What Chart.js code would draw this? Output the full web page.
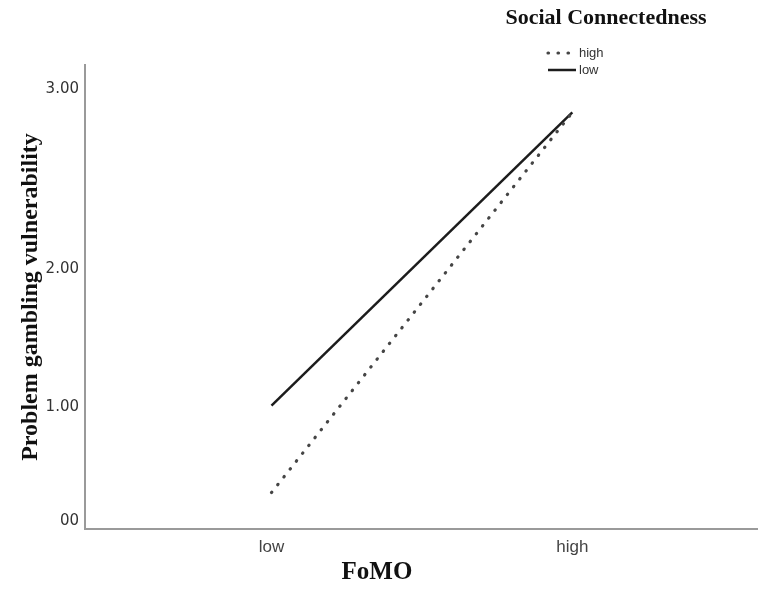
<!DOCTYPE html>
<html>
<head>
<meta charset="utf-8">
<title>FoMO x Social Connectedness</title>
<script src="https://cdn.jsdelivr.net/npm/chart.js@4.4.1/dist/chart.umd.min.js"></script>
<style>
  html, body { margin: 0; padding: 0; background: #fff; }
</style>
</head>
<body>
<canvas id="chart" width="758" height="590"></canvas>
<script>
// ---- data ----
const fomoLevels = ['low', 'high'];
const groupNames = ['high', 'low'];
const highConnected = [0.25, 2.87];
const lowConnected = [1.01, 2.87];
const yTickValues = [0, 1, 2, 3];
const yTickLabels = ['00', '1.00', '2.00', '3.00'];

const legendTitle = 'Social Connectedness';
const xTitle = 'FoMO';
const yTitle = 'Problem gambling vulnerability';

// The reference y axis is not evenly spaced, so the scale bends between ticks.
// Share of the plot height (from the bottom) where each tick value sits.
const ySpots = [0.017, 0.263, 0.561, 0.948];

class UnevenScale extends Chart.LinearScale {
  static id = 'uneven';
  static defaults = {};

  _share(v) {
    let i = 0;
    while (i < yTickValues.length - 2 && v > yTickValues[i + 1]) i++;
    const t = (v - yTickValues[i]) / (yTickValues[i + 1] - yTickValues[i]);
    return ySpots[i] + t * (ySpots[i + 1] - ySpots[i]);
  }

  getPixelForValue(value) {
    if (value === null || value === undefined) return NaN;
    return this.bottom - this._share(value) * (this.bottom - this.top);
  }

  getValueForPixel(pixel) {
    const share = (this.bottom - pixel) / (this.bottom - this.top);
    let i = 0;
    while (i < ySpots.length - 2 && share > ySpots[i + 1]) i++;
    const t = (share - ySpots[i]) / (ySpots[i + 1] - ySpots[i]);
    return yTickValues[i] + t * (yTickValues[i + 1] - yTickValues[i]);
  }
}
Chart.register(UnevenScale);

// legend block top right, SPSS style
const sideLegend = {
  id: 'sideLegend',
  afterDraw(chart, args, opts) {
    const ctx = chart.ctx;
    ctx.save();
    ctx.fillStyle = '#111';
    ctx.font = 'bold 22px "Liberation Serif"';
    ctx.textAlign = 'center';
    ctx.textBaseline = 'middle';
    ctx.fillText(legendTitle, opts.titleX, opts.titleY);

    chart.data.datasets.forEach((ds, i) => {
      const y = opts.itemY + i * opts.itemGap;
      ctx.strokeStyle = ds.borderColor;
      ctx.lineWidth = ds.borderWidth;
      ctx.lineCap = ds.borderCapStyle || 'butt';
      ctx.setLineDash(ds.borderDash || []);
      ctx.beginPath();
      ctx.moveTo(opts.lineX, y);
      ctx.lineTo(opts.lineX + opts.lineLen, y);
      ctx.stroke();
      ctx.setLineDash([]);
      ctx.fillStyle = '#333';
      ctx.font = '13px "Liberation Sans"';
      ctx.textAlign = 'left';
      ctx.fillText(ds.label, opts.lineX + opts.lineLen + 3, y);
    });

    // x axis title sits left of the axis centre in the reference
    ctx.fillStyle = '#111';
    ctx.font = 'bold 25px "Liberation Serif"';
    ctx.textAlign = 'center';
    ctx.fillText(xTitle, opts.xTitleX, opts.xTitleY);
    ctx.restore();
  }
};

const toPoints = values => values.map((v, i) => ({ x: i, y: v }));

const config = {
  type: 'line',
  data: {
    datasets: [
      {
        label: groupNames[0],
        data: toPoints(highConnected),
        borderColor: '#454545',
        borderWidth: 3.2,
        borderDash: [0.5, 9.5],
        borderCapStyle: 'round',
        pointRadius: 0,
        tension: 0
      },
      {
        label: groupNames[1],
        data: toPoints(lowConnected),
        borderColor: '#1c1c1c',
        borderWidth: 2.5,
        pointRadius: 0,
        tension: 0
      }
    ]
  },
  options: {
    responsive: false,
    animation: false,
    events: [],
    layout: { padding: { top: 65, right: 1, left: 0, bottom: 0 } },
    plugins: {
      legend: { display: false },
      tooltip: { enabled: false },
      sideLegend: {
        titleX: 606, titleY: 18,
        lineX: 548, lineLen: 28,
        itemY: 53, itemGap: 17,
        xTitleX: 377, xTitleY: 573
      }
    },
    scales: {
      x: {
        type: 'linear',
        min: -0.62,
        max: 1.614,
        grid: { display: false, drawTicks: false },
        border: { display: true, color: '#9a9a9a', width: 2 },
        afterBuildTicks: scale => { scale.ticks = fomoLevels.map((_, i) => ({ value: i })); },
        afterFit: scale => { scale.height = 61; },
        ticks: {
          padding: 8,
          color: '#444',
          font: { family: 'Liberation Sans', size: 17 },
          callback: value => fomoLevels[value]
        }
      },
      y: {
        type: 'uneven',
        min: -0.07,
        max: 3.15,
        grid: { display: false, drawTicks: false },
        border: { display: true, color: '#9a9a9a', width: 2 },
        afterBuildTicks: scale => { scale.ticks = yTickValues.map(v => ({ value: v })); },
        afterFit: scale => { scale.width = 85; },
        ticks: {
          padding: 6,
          color: '#333',
          font: { family: 'DejaVu Sans', size: 15 },
          callback: (value, index) => yTickLabels[index]
        },
        title: {
          display: true,
          text: yTitle,
          color: '#111',
          padding: { top: 16, bottom: 0 },
          font: { family: 'Liberation Serif', size: 24, weight: 'bold' }
        }
      }
    }
  },
  plugins: [sideLegend]
};

new Chart(document.getElementById('chart'), config);
</script>
</body>
</html>
